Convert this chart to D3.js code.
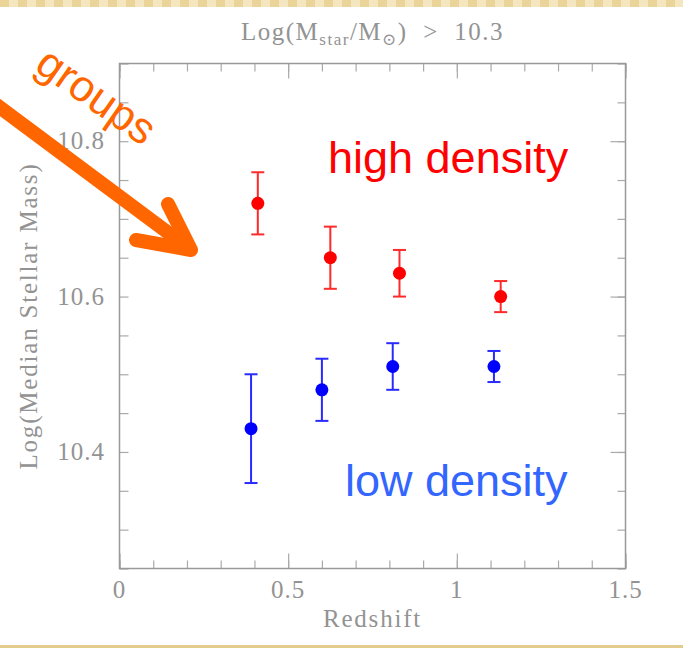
<!DOCTYPE html>
<html>
<head>
<meta charset="utf-8">
<script src="https://cdn.jsdelivr.net/npm/d3@7"></script>
<style>
  body { margin: 0; background: #fff; }
  svg { display: block; }
</style>
</head>
<body>
<div id="chart"></div>
<script>
// redshift bins and median masses with their error ranges
const hiZ = [0.41, 0.625, 0.83, 1.13];
const hiMass = [10.72, 10.65, 10.63, 10.60];
const hiLow = [10.68, 10.61, 10.60, 10.58];
const hiHigh = [10.76, 10.69, 10.66, 10.62];

const loZ = [0.39, 0.60, 0.81, 1.11];
const loMass = [10.43, 10.48, 10.51, 10.51];
const loLow = [10.36, 10.44, 10.48, 10.49];
const loHigh = [10.50, 10.52, 10.54, 10.53];

const xTicks = [0, 0.5, 1, 1.5];
const xMinor = d3.range(0, 1.5001, 0.1);
const yTicks = [10.4, 10.6, 10.8];
const yMinor = d3.range(10.25, 10.9001, 0.05);

const width = 683, height = 648;
const plotLeft = 119.5, plotRight = 625.5, plotTop = 63.5, plotBottom = 568.5;
const grey = "#939393";
const serif = "'Liberation Serif', 'DejaVu Serif', serif";

const svg = d3.select("#chart").append("svg")
    .attr("width", width)
    .attr("height", height);

// slide decoration: gold band on top, thin gold rule at bottom
const defs = svg.append("defs");
const pat = defs.append("pattern")
    .attr("id", "gold")
    .attr("width", 18).attr("height", 8)
    .attr("patternUnits", "userSpaceOnUse");
pat.append("rect").attr("width", 18).attr("height", 8).attr("fill", "#ead49a");
pat.append("rect").attr("x", 9).attr("width", 9).attr("height", 8).attr("fill", "#f4e6bf");
svg.append("rect").attr("x", 0).attr("y", 0).attr("width", width).attr("height", 7).attr("fill", "url(#gold)");
svg.append("rect").attr("x", 0).attr("y", 645).attr("width", width).attr("height", 3).attr("fill", "#e2cc8e");

const x = d3.scaleLinear().domain([0, 1.5]).range([plotLeft, plotRight]);
const y = d3.scaleLinear().domain([10.25, 10.9]).range([plotBottom, plotTop]);

// axes on all four sides
const tickStyle = g => {
    g.select(".domain").remove();
    g.selectAll(".tick line").attr("stroke", "#aaa").attr("stroke-width", 1.2);
};

svg.append("g").attr("transform", `translate(0,${plotBottom})`)
    .call(d3.axisTop(x).tickValues(xMinor).tickSize(8).tickFormat(""))
    .call(tickStyle);
svg.append("g").attr("transform", `translate(0,${plotBottom})`)
    .call(d3.axisTop(x).tickValues(xTicks).tickSize(15).tickFormat(""))
    .call(tickStyle);
svg.append("g").attr("transform", `translate(0,${plotTop})`)
    .call(d3.axisBottom(x).tickValues(xMinor).tickSize(8).tickFormat(""))
    .call(tickStyle);
svg.append("g").attr("transform", `translate(0,${plotTop})`)
    .call(d3.axisBottom(x).tickValues(xTicks).tickSize(15).tickFormat(""))
    .call(tickStyle);
svg.append("g").attr("transform", `translate(${plotLeft},0)`)
    .call(d3.axisRight(y).tickValues(yMinor).tickSize(9).tickFormat(""))
    .call(tickStyle);
svg.append("g").attr("transform", `translate(${plotRight},0)`)
    .call(d3.axisLeft(y).tickValues(yMinor).tickSize(8).tickFormat(""))
    .call(tickStyle);
svg.append("g").attr("transform", `translate(${plotRight},0)`)
    .call(d3.axisLeft(y).tickValues(yTicks).tickSize(15).tickFormat(""))
    .call(tickStyle);

// tick labels
svg.append("g").selectAll("text")
    .data(xTicks)
    .join("text")
    .attr("x", d => x(d))
    .attr("y", 598)
    .attr("text-anchor", "middle")
    .attr("font-family", serif)
    .attr("font-size", 25)
    .attr("letter-spacing", 1)
    .attr("fill", grey)
    .text(d => d3.format("")(d));

svg.append("g").selectAll("text")
    .data(yTicks)
    .join("text")
    .attr("x", 105)
    .attr("y", d => y(d) + 8)
    .attr("text-anchor", "end")
    .attr("font-family", serif)
    .attr("font-size", 25)
    .attr("letter-spacing", 1)
    .attr("fill", grey)
    .text(d => d.toFixed(1));

// frame
svg.append("rect")
    .attr("x", plotLeft).attr("y", plotTop)
    .attr("width", plotRight - plotLeft).attr("height", plotBottom - plotTop)
    .attr("fill", "none")
    .attr("stroke", "#999")
    .attr("stroke-width", 1.5);

// axis titles
svg.append("text")
    .attr("x", (plotLeft + plotRight) / 2)
    .attr("y", 627)
    .attr("text-anchor", "middle")
    .attr("font-family", serif)
    .attr("font-size", 25)
    .attr("letter-spacing", 1.8)
    .attr("fill", grey)
    .text("Redshift");

svg.append("text")
    .attr("transform", `translate(37,${(plotTop + plotBottom) / 2}) rotate(-90)`)
    .attr("text-anchor", "middle")
    .attr("font-family", serif)
    .attr("font-size", 25)
    .attr("letter-spacing", 1.8)
    .attr("fill", grey)
    .text("Log(Median Stellar Mass)");

const title = svg.append("text")
    .attr("x", (plotLeft + plotRight) / 2)
    .attr("y", 40)
    .attr("text-anchor", "middle")
    .attr("font-family", serif)
    .attr("font-size", 25)
    .attr("letter-spacing", 1.5)
    .attr("fill", grey)
    .style("white-space", "pre");
title.append("tspan").text("Log(M");
title.append("tspan").attr("font-size", 17).attr("dy", 5).text("star");
title.append("tspan").attr("dy", -5).text("/M");
title.append("tspan").attr("font-size", 17).attr("dy", 5).text("\u2299");
title.append("tspan").attr("dy", -5).text(")  >  10.3");

// data points with error bars
function drawSeries(zs, mass, lo, hi, barColor, dotColor) {
    const rows = zs.map((z, i) => ({ z, m: mass[i], lo: lo[i], hi: hi[i] }));
    const g = svg.append("g");
    const bars = g.selectAll("g").data(rows).join("g")
        .attr("stroke", barColor)
        .attr("stroke-width", 2);
    bars.append("line")
        .attr("x1", d => x(d.z)).attr("x2", d => x(d.z))
        .attr("y1", d => y(d.lo)).attr("y2", d => y(d.hi));
    bars.append("line")
        .attr("x1", d => x(d.z) - 6.5).attr("x2", d => x(d.z) + 6.5)
        .attr("y1", d => y(d.lo)).attr("y2", d => y(d.lo));
    bars.append("line")
        .attr("x1", d => x(d.z) - 6.5).attr("x2", d => x(d.z) + 6.5)
        .attr("y1", d => y(d.hi)).attr("y2", d => y(d.hi));
    g.selectAll("circle").data(rows).join("circle")
        .attr("cx", d => x(d.z))
        .attr("cy", d => y(d.m))
        .attr("r", 6.5)
        .attr("fill", dotColor);
}

drawSeries(hiZ, hiMass, hiLow, hiHigh, "#ff2a2a", "#ff0000");
drawSeries(loZ, loMass, loLow, loHigh, "#2a2aff", "#0000ff");

// labels on the slide
const sans = "'Liberation Sans', Arial, sans-serif";
svg.append("text")
    .attr("x", 328).attr("y", 173)
    .attr("font-family", sans)
    .attr("font-size", 45)
    .attr("fill", "#ff0000")
    .text("high density");

svg.append("text")
    .attr("x", 345).attr("y", 496)
    .attr("font-family", sans)
    .attr("font-size", 45)
    .attr("fill", "#3366ff")
    .text("low density");

// orange "groups" arrow
const orange = "#ff6600";
svg.append("text")
    .attr("transform", "translate(88,108) rotate(35)")
    .attr("text-anchor", "middle")
    .attr("font-family", sans)
    .attr("font-size", 44)
    .attr("fill", orange)
    .text("groups");

svg.append("line")
    .attr("x1", -6).attr("y1", 103)
    .attr("x2", 186).attr("y2", 246)
    .attr("stroke", orange)
    .attr("stroke-width", 14)
    .attr("stroke-linecap", "round");
svg.append("polyline")
    .attr("points", "168,204 191,250 136,240")
    .attr("fill", "none")
    .attr("stroke", orange)
    .attr("stroke-width", 14)
    .attr("stroke-linecap", "round")
    .attr("stroke-linejoin", "round");
</script>
</body>
</html>
